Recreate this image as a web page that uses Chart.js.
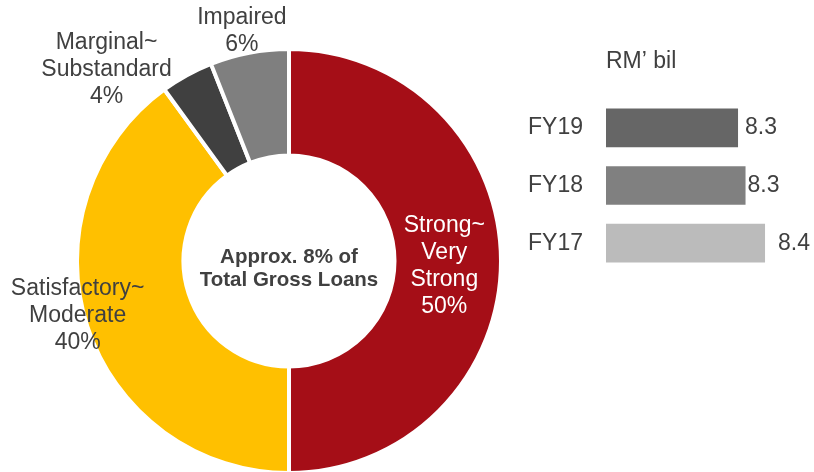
<!DOCTYPE html>
<html>
<head>
<meta charset="utf-8">
<title>Loan grades</title>
<script src="https://cdn.jsdelivr.net/npm/chart.js@4.4.0/dist/chart.umd.min.js"></script>
<style>
    html, body { margin: 0; padding: 0; background: #fff; }
    #wrap { position: relative; width: 814px; height: 472px; }
    #wrap canvas { position: absolute; left: 0; top: 0; }
</style>
</head>
<body>
<div id="wrap">
    <canvas id="gradeChart" width="814" height="472"></canvas>
    <canvas id="exposureChart" width="814" height="472"></canvas>
</div>
<script>
// Doughnut: share of loans by grade
const gradeLabels = [['Strong~', 'Very', 'Strong'], ['Satisfactory~', 'Moderate'], ['Marginal~', 'Substandard'], ['Impaired']];
const gradeShares = [50, 40, 4, 6];
const gradeColors = ['#A50E17', '#FFC000', '#404040', '#7F7F7F'];
const centerText = ['Approx. 8% of', 'Total Gross Loans'];

// Bars: RM' bil by year
const yearLabels = ['FY19', 'FY18', 'FY17'];
const exposureValues = [8.26, 8.31, 8.44];
const barColors = ['#666666', '#808080', '#BBBBBB'];
const unitLabel = 'RM\u2019 bil';

const FONT = "'Liberation Sans', Arial, sans-serif";
const TEXT = '#404040';
Chart.defaults.font.family = FONT;

// where each slice label sits: radius factor + small turn (deg) off the slice middle
const sliceLabelPos = [
    { r: 0.74, turn: 2, color: '#ffffff' },
    { r: 1.04, turn: 3.4, color: TEXT },
    { r: 1.26, turn: -14.8, color: TEXT },
    { r: 1.116, turn: -0.8, color: TEXT }
];

const sliceLabels = {
    id: 'sliceLabels',
    afterDatasetsDraw(chart) {
        const ctx = chart.ctx;
        const arcs = chart.getDatasetMeta(0).data;
        const lineH = 27;
        ctx.save();
        ctx.font = '23px ' + FONT;
        ctx.textAlign = 'center';
        ctx.textBaseline = 'middle';
        arcs.forEach((arc, i) => {
            const pos = sliceLabelPos[i];
            const a = (arc.startAngle + arc.endAngle) / 2 + pos.turn * Math.PI / 180;
            const cx = arc.x + Math.cos(a) * 210 * pos.r;
            const cy = arc.y + Math.sin(a) * 210 * pos.r;
            const lines = gradeLabels[i].concat([gradeShares[i] + '%']);
            const y0 = cy - (lines.length - 1) * lineH / 2;
            ctx.fillStyle = pos.color;
            lines.forEach((t, j) => ctx.fillText(t, cx, y0 + j * lineH));
        });

        // centre note
        const c = arcs[0];
        ctx.font = 'bold 20.5px ' + FONT;
        ctx.fillStyle = TEXT;
        ctx.fillText(centerText[0], c.x, c.y - 4);
        ctx.fillText(centerText[1], c.x, c.y + 19);
        ctx.restore();
    }
};

new Chart(document.getElementById('gradeChart'), {
    type: 'doughnut',
    data: {
        labels: gradeLabels.map(l => l.join(' ')),
        datasets: [{
            data: gradeShares,
            backgroundColor: gradeColors,
            borderColor: '#ffffff',
            borderWidth: 4
        }]
    },
    options: {
        responsive: false,
        animation: false,
        radius: 212,
        cutout: 104,
        layout: { padding: { left: 78, right: 314, top: 50, bottom: 0 } },
        plugins: {
            legend: { display: false },
            tooltip: { enabled: false }
        }
    },
    plugins: [sliceLabels]
});

// value labels sit a little past each bar end
const valueNudge = [7, 2, 13];

const barValues = {
    id: 'barValues',
    afterDatasetsDraw(chart) {
        const ctx = chart.ctx;
        const bars = chart.getDatasetMeta(0).data;
        ctx.save();
        ctx.font = '23px ' + FONT;
        ctx.fillStyle = TEXT;
        ctx.textAlign = 'left';
        ctx.textBaseline = 'middle';
        bars.forEach((bar, i) => {
            ctx.fillText(exposureValues[i].toFixed(1), bar.x + valueNudge[i], bar.y);
        });
        ctx.fillText(unitLabel, chart.chartArea.left, chart.chartArea.top - 37);
        ctx.restore();
    }
};

new Chart(document.getElementById('exposureChart'), {
    type: 'bar',
    data: {
        labels: yearLabels,
        datasets: [{
            data: exposureValues,
            backgroundColor: barColors,
            borderWidth: 0,
            barPercentage: 0.67,
            categoryPercentage: 1
        }]
    },
    options: {
        indexAxis: 'y',
        responsive: false,
        animation: false,
        layout: { padding: { left: 500, right: 14, top: 99, bottom: 200 } },
        plugins: {
            legend: { display: false },
            tooltip: { enabled: false }
        },
        scales: {
            x: { display: false, min: 7.38, max: 8.673 },
            y: {
                grid: { display: false, drawTicks: false },
                border: { display: false },
                ticks: { color: TEXT, font: { size: 23 }, padding: 23 },
                afterFit(scale) { scale.width = 106; }
            }
        }
    },
    plugins: [barValues]
});
</script>
</body>
</html>
